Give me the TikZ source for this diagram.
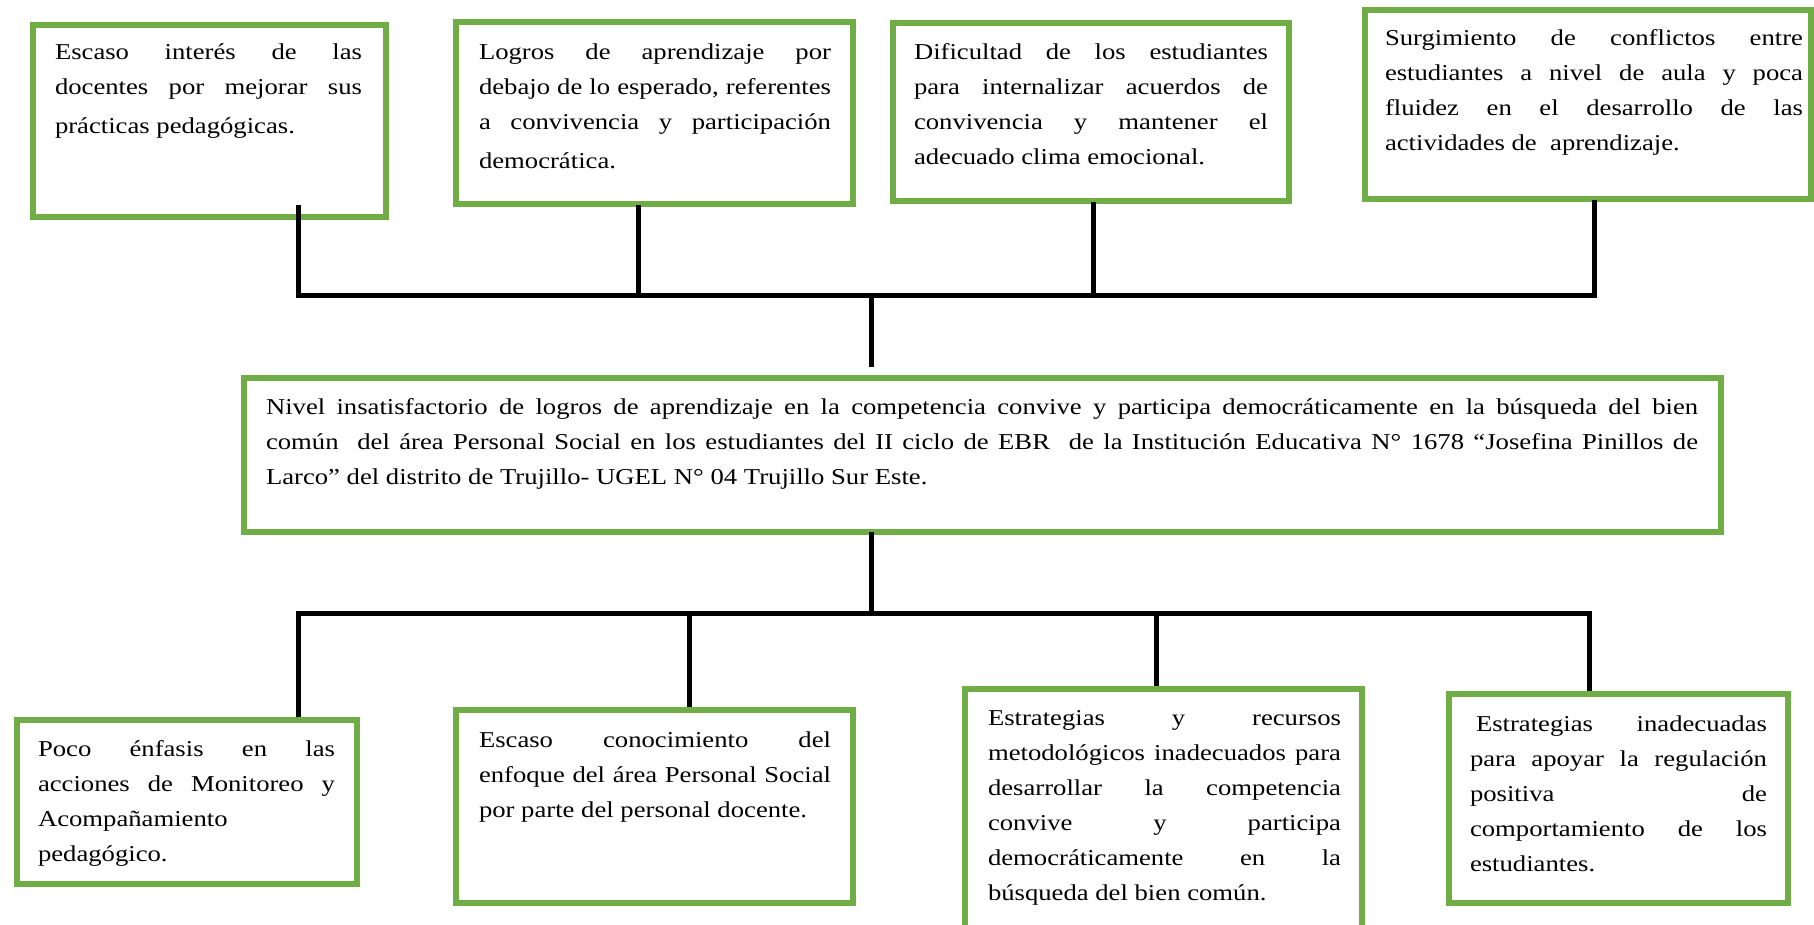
\documentclass[tikz,border=0pt]{standalone}
\usepackage{fontspec}
\setmainfont{Liberation Serif}[FakeStretch=1.175]
\definecolor{gcol}{HTML}{70AD47}
\setlength\parindent{0pt}
\hyphenpenalty=10000
\tolerance=10000
\tikzset{
  gbox/.style={draw=gcol, line width=6pt, rectangle, inner sep=0pt, anchor=north west},
  txt/.style={inner sep=0pt, outer sep=0pt, anchor=north west, align=justify,
    font=\fontsize{22.7}{35}\selectfont},
  conn/.style={draw=black, line width=5pt}
}
\begin{document}
\begin{tikzpicture}[x=1pt,y=-1pt]
\useasboundingbox (0,0) rectangle (1814,925);
\fill[white] (0,0) rectangle (1814,925);

% top boxes (positions are outer corners)
\node[gbox, minimum width=353pt, minimum height=192pt] (b1) at (30,22) {};
\node[gbox, minimum width=397pt, minimum height=182pt] (b2) at (453,19) {};
\node[gbox, minimum width=396pt, minimum height=178pt] (b3) at (890,20) {};
\node[gbox, minimum width=446pt, minimum height=189pt] (b4) at (1362,7) {};
% central box
\node[gbox, minimum width=1477pt, minimum height=154pt] (c) at (241,375) {};
% bottom boxes
\node[gbox, minimum width=340pt, minimum height=164pt] (b5) at (14,717) {};
\node[gbox, minimum width=397pt, minimum height=193pt] (b6) at (453,707) {};
\node[gbox, minimum width=397pt, minimum height=256pt] (b7) at (962,686) {};
\node[gbox, minimum width=339pt, minimum height=209pt] (b8) at (1446,691) {};

% texts
\node[txt, text width=307pt] (t1) at (55,35.2) {\strut Escaso interés de las\linebreak docentes por mejorar sus\vspace{4pt}\linebreak prácticas pedagógicas.};
\node[txt, text width=352pt] (t2) at (479,35.2) {\strut Logros de aprendizaje por\linebreak debajo de lo esperado, referentes\linebreak a convivencia y participación\vspace{4pt}\linebreak democrática.};
\node[txt, text width=354pt] (t3) at (914,35.2) {\strut Dificultad de los estudiantes\linebreak para internalizar acuerdos de\linebreak convivencia y mantener el\linebreak adecuado clima emocional.};
\node[txt, text width=418pt] (t4) at (1385,21.2) {\strut Surgimiento de conflictos entre\linebreak estudiantes a nivel de aula y poca\linebreak fluidez en el desarrollo de las\linebreak actividades de\ \ aprendizaje.};
\node[txt, text width=1432pt] (tc) at (266,390.2) {\strut Nivel insatisfactorio de logros de aprendizaje en la competencia convive y participa democráticamente en la búsqueda del bien\linebreak común\ \ del área Personal Social en los estudiantes del II ciclo de EBR\ \ de la Institución Educativa N° 1678 “Josefina Pinillos de\linebreak Larco” del distrito de Trujillo- UGEL N° 04 Trujillo Sur Este.};
\node[txt, text width=297pt] (t5) at (38,732.2) {\strut Poco énfasis en las\linebreak acciones de Monitoreo y\linebreak Acompañamiento\newline pedagógico.};
\node[txt, text width=352pt] (t6) at (479,723.2) {\strut Escaso conocimiento del\linebreak enfoque del área Personal Social\linebreak por parte del personal docente.};
\node[txt, text width=353pt] (t7) at (988,701.2) {\strut Estrategias y recursos\linebreak metodológicos inadecuados para\linebreak desarrollar la competencia\linebreak convive y participa\linebreak democráticamente en la\linebreak búsqueda del bien común.};
\node[txt, text width=297pt] (t8) at (1470,707.2) {\strut\hspace{6pt}Estrategias inadecuadas\linebreak para apoyar la regulación\linebreak positiva de\linebreak comportamiento de los\linebreak estudiantes.};

% connector coordinates
\coordinate (tb1) at (298.5,295);
\coordinate (tb2) at (638,295);
\coordinate (tb3) at (1093.5,295);
\coordinate (tb4) at (1594,295);
\coordinate (tbc) at (871,295);
\coordinate (bb1) at (298.5,613);
\coordinate (bb2) at (689,613);
\coordinate (bb3) at (1156.5,613);
\coordinate (bb4) at (1589,613);
\coordinate (bbc) at (871,613);

% top connectors
\draw[conn] ([yshift=15pt]b1.south -| tb1) -- (tb1) -- (tb4) -- ([yshift=2pt]b4.south -| tb4);
\draw[conn] ([yshift=2pt]b2.south -| tb2) -- (tb2);
\draw[conn] ([yshift=2pt]b3.south -| tb3) -- (tb3);
\draw[conn] (tbc) -- ([yshift=8pt]c.north -| tbc);

% bottom connectors
\draw[conn] ([yshift=3pt]c.south -| bbc) -- (bbc);
\draw[conn] (b5.north -| bb1) -- (bb1) -- (bb4) -- (b8.north -| bb4);
\draw[conn] (bb2) -- (b6.north -| bb2);
\draw[conn] (bb3) -- (b7.north -| bb3);
\end{tikzpicture}
\end{document}
